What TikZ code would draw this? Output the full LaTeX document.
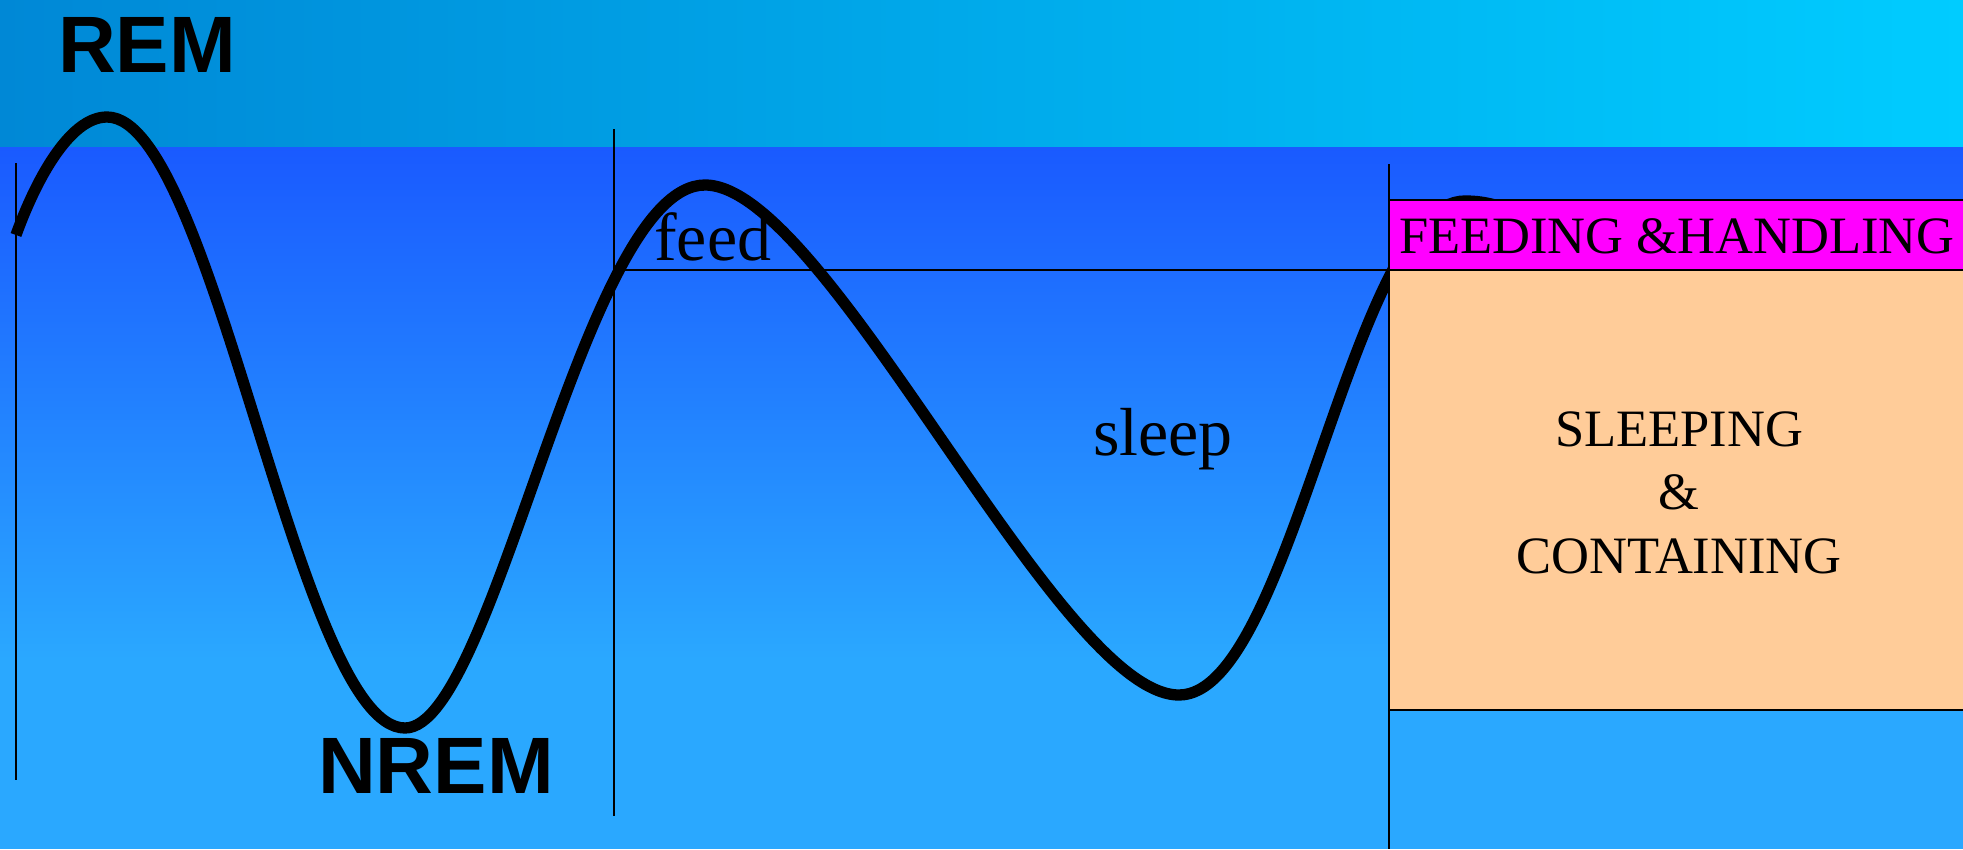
\documentclass[tikz,border=0pt]{standalone}
\usepackage{fontspec}
\setmainfont{Liberation Serif}
\newfontfamily\headfont{Liberation Sans}
\definecolor{bandL}{RGB}{0,136,214}
\definecolor{bandR}{RGB}{0,204,255}
\definecolor{bodyT}{RGB}{26,90,255}
\definecolor{bodyB}{RGB}{42,168,255}
\definecolor{mag}{RGB}{255,0,255}
\definecolor{peach}{RGB}{255,204,153}
\begin{document}
\begin{tikzpicture}[x=1pt,y=-1pt,
  vline/.style={line width=2pt,black},
  wave/.style={line width=11.3pt,black,line cap=butt,line join=round},
  boxline/.style={line width=2.5pt,black},
  big/.style={anchor=base west,inner sep=0pt,font=\fontsize{80}{80}\selectfont\headfont\bfseries},
  lbl/.style={anchor=base west,inner sep=0pt,font=\fontsize{68}{68}\selectfont},
  boxtxt/.style={inner sep=0pt,font=\fontsize{52.5}{52.5}\selectfont}]
\clip (0,0) rectangle (1963,849);
% backgrounds
\shade[left color=bandL, right color=bandR] (0,0) rectangle (1963,147);
\shade[top color=bodyT, bottom color=bodyB] (0,147) rectangle (1963,660);
\fill[bodyB] (0,659) rectangle (1963,849);
% coordinates
\coordinate (l1t) at (16,163);
\coordinate (l1b) at (16,780);
\coordinate (l2t) at (614,129);
\coordinate (l2b) at (614,816);
\coordinate (l3t) at (1389,164);
\coordinate (l3b) at (1389,849);
\coordinate (hl) at (614,270);
\coordinate (hr) at (1389,270);
% wave
\draw[wave] (16,235) .. controls (34,185) and (68,117) .. (107,117)
  .. controls (214,117) and (298,728) .. (405,728)
  .. controls (495,728) and (583,185) .. (705,185)
  .. controls (827,185) and (1057,695) .. (1179,695)
  .. controls (1292,695) and (1352,201) .. (1465,201)
  .. controls (1510,201) and (1540,225) .. (1570,265);
% boxes
\draw[boxline,fill=mag] (1389,200) rectangle (1975,270);
\draw[boxline,fill=peach] (1389,270) rectangle (1975,710);
% lines
\draw[vline] (l1t) -- (l1b);
\draw[vline] (l2t) -- (l2b);
\draw[vline] (l3t) -- (l3b);
\draw[vline] (hl) -- (hr);
% texts
\node[big] (rem) at (58,72) {REM};
\node[big] (nrem) at (318,793) {NREM};
\node[lbl] (feed) at (654,260) {feed};
\node[lbl] (sleep) at (1093,455) {sleep};
\node[boxtxt,anchor=base west] (fh) at (1399,253) {FEEDING \&HANDLING};
\node[boxtxt,anchor=base] (sc1) at (1679,446) {SLEEPING};
\node[boxtxt,anchor=base] (sc2) at (1679,509) {\&};
\node[boxtxt,anchor=base] (sc3) at (1679,573) {CONTAINING};
\end{tikzpicture}
\end{document}
